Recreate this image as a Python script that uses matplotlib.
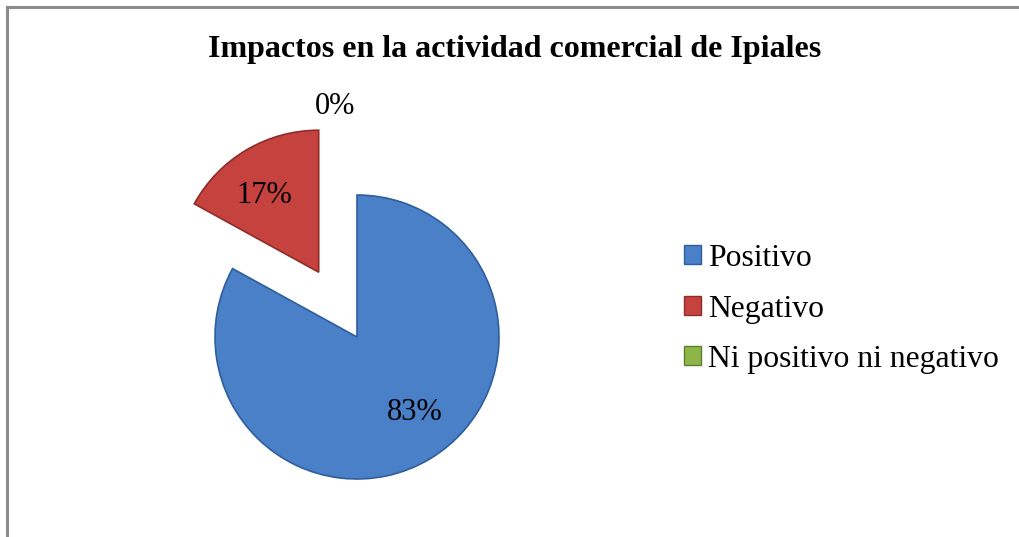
import matplotlib.pyplot as plt
from matplotlib.lines import Line2D

labels = ['Positivo', 'Negativo', 'Ni positivo ni negativo']
values = [83, 17, 0]
colors = ['#4A80C8', '#C6423E', '#8DB548']
edges = ['#2F5E9C', '#8E2C29', '#5F7F2C']
explode = [0, 0.53, 0.53]

plt.rcParams['font.family'] = ['Liberation Serif', 'DejaVu Serif']

fig = plt.figure(figsize=(10.19, 5.37), dpi=100)
# chart frame (top and left edges visible in the original)
fig.add_artist(Line2D([0.007, 1.0], [1 - 7 / 537, 1 - 7 / 537], color='#8c8c8c', lw=2.2))
fig.add_artist(Line2D([0.007, 0.007], [0.0, 1 - 7 / 537], color='#8c8c8c', lw=2.2))

# center ~ (357, 337) px, radius ~142 px
ax = fig.add_axes([(357 - 250) / 1019, (537 - 337 - 250) / 537, 500 / 1019, 500 / 537])

wedges, texts, autotexts = ax.pie(
    values, colors=colors, explode=explode, startangle=90, counterclock=False,
    autopct='%1.0f%%', pctdistance=0.64, radius=1.0,
    wedgeprops=dict(linewidth=1.2), textprops=dict(fontsize=22, color='black'))
for w, ec, v in zip(wedges, edges, values):
    w.set_edgecolor(ec)
    if v == 0:
        w.set_linewidth(0)

ax.set_xlim(-250 / 142, 250 / 142)
ax.set_ylim(-250 / 142, 250 / 142)
ax.set_aspect('equal')
ax.axis('off')

# nudge label positions to match the original
autotexts[0].set_position((0.41, -0.53))
autotexts[1].set_position((-0.65, 1.0))
autotexts[2].set_position((-0.155, 1.62))

fig.text(0.5 + 0.005, 1 - 50 / 537, 'Impactos en la actividad comercial de Ipiales',
         ha='center', va='center', fontsize=23, fontweight='bold')

handles = [plt.Rectangle((0, 0), 1, 1, facecolor=c, edgecolor=e, lw=1) for c, e in zip(colors, edges)]
fig.legend(handles, labels, loc='center left', bbox_to_anchor=(684 / 1019, 1 - 309 / 537),
           frameon=False, fontsize=22.8, handlelength=0.55, handleheight=0.55,
           handletextpad=0.2, labelspacing=0.68, borderaxespad=0, borderpad=0)

fig.savefig('out.png', dpi=100)
